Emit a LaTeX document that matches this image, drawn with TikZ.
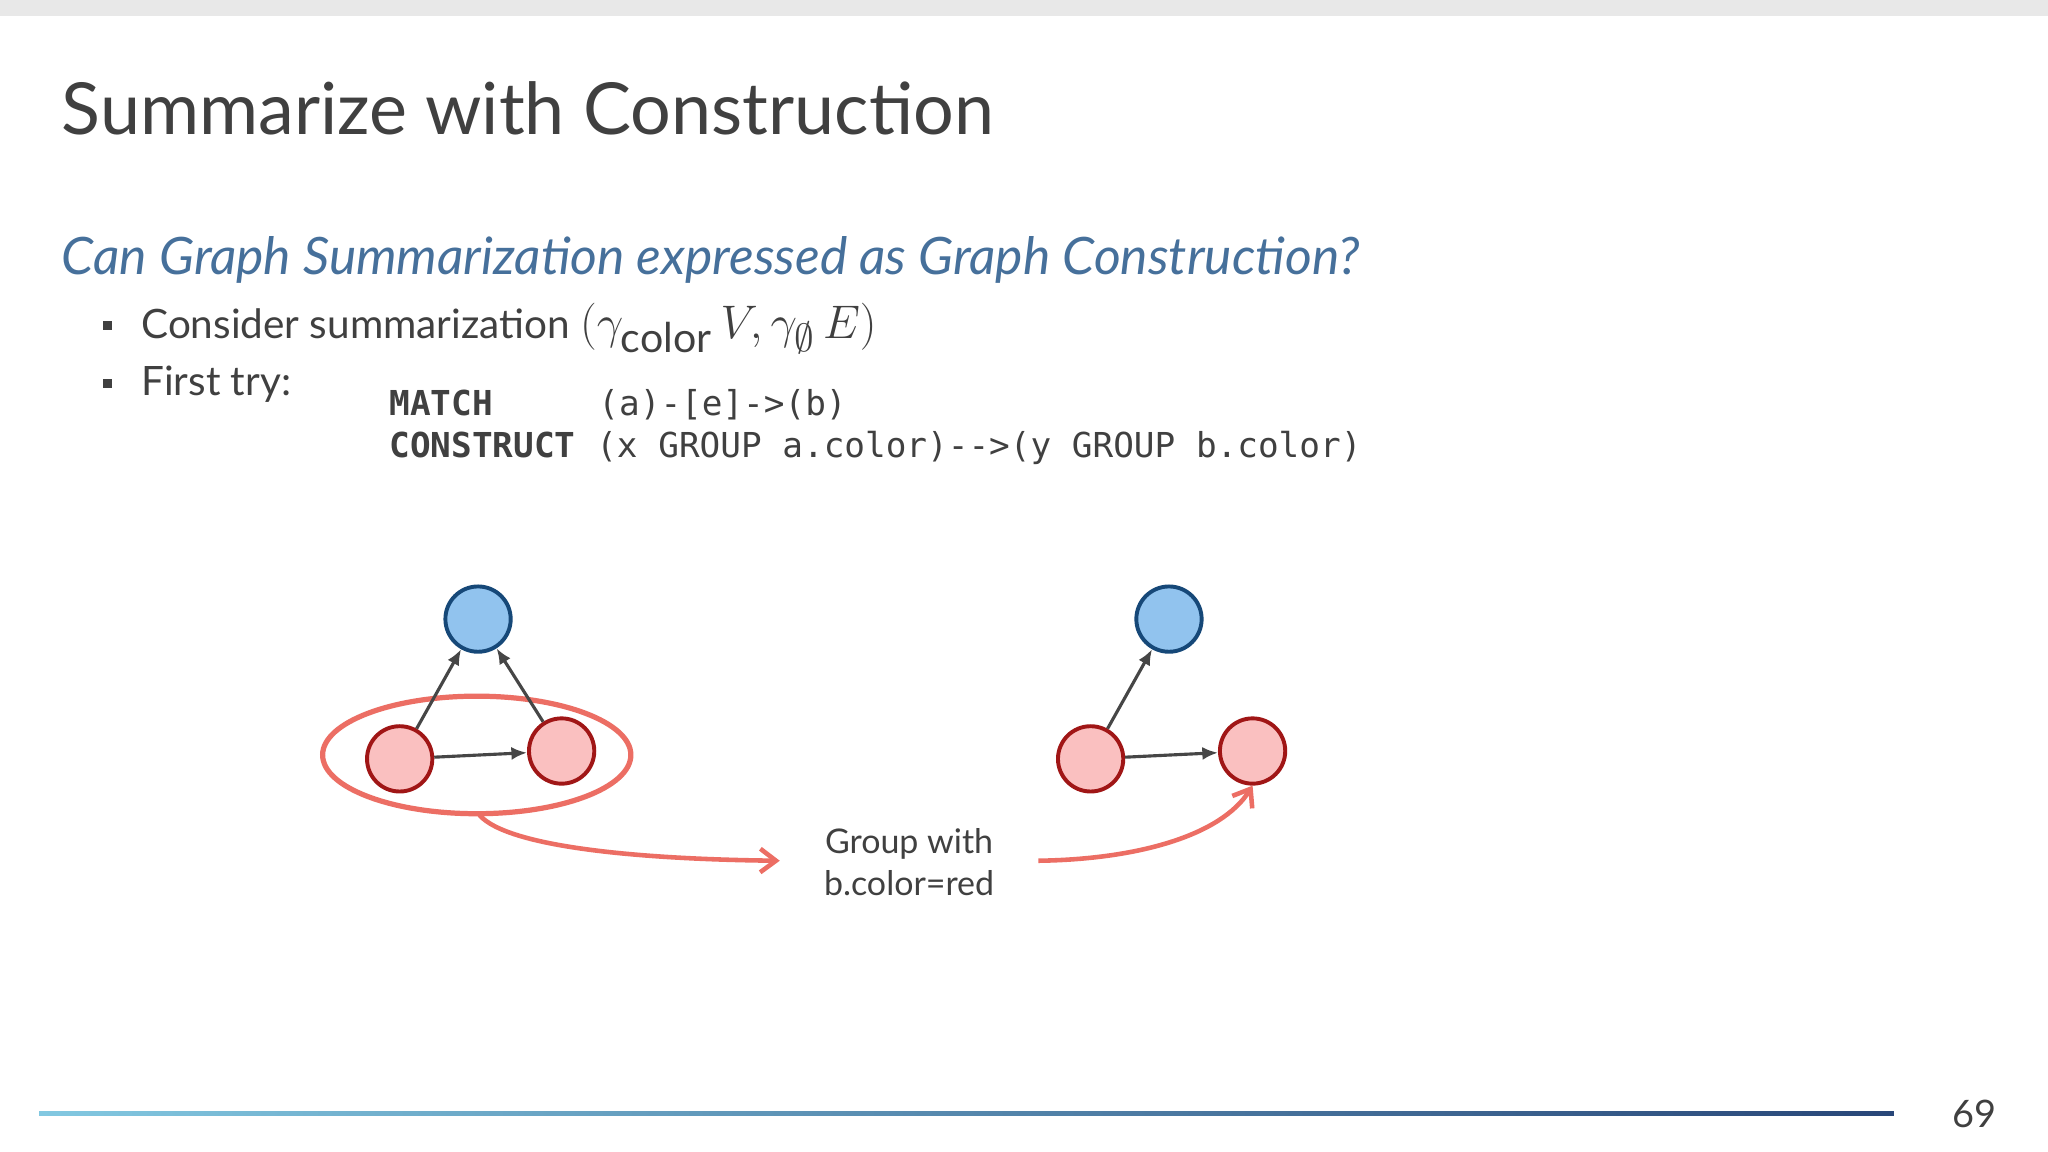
\documentclass[tikz,border=0pt]{standalone}
\usepackage{fontspec}
\setmainfont{Lato}
\newfontfamily\codefont{DejaVu Sans Mono}
\usetikzlibrary{arrows.meta}
\definecolor{titlec}{RGB}{64,64,64}
\definecolor{subc}{RGB}{70,112,155}
\definecolor{bfill}{RGB}{145,195,238}
\definecolor{bdraw}{RGB}{22,72,120}
\definecolor{rfill}{RGB}{250,192,192}
\definecolor{rdraw}{RGB}{160,22,22}
\definecolor{salmon}{RGB}{236,110,100}
\definecolor{edgec}{RGB}{70,70,70}
\definecolor{lineA}{RGB}{130,200,225}
\definecolor{lineB}{RGB}{40,70,120}
\tikzset{
 bnode/.style={circle,draw=bdraw,fill=bfill,line width=3pt,minimum size=50pt,inner sep=0pt},
 rnode/.style={circle,draw=rdraw,fill=rfill,line width=3pt,minimum size=50pt,inner sep=0pt},
 gedge/.style={draw=edgec,line width=2.4pt,-{Latex[length=12pt,width=10pt]}},
 sarrow/.style={draw=salmon,line width=3.5pt,-{Straight Barb[length=12pt,width=18pt]}},
}
\begin{document}
\begin{tikzpicture}[x=1pt,y=-1pt]
\useasboundingbox (0,0) rectangle (1568,882);
\fill[white] (0,0) rectangle (1568,882);
\fill[black!9] (0,0) rectangle (1568,12);
\node[anchor=base west,inner sep=0,text=titlec,font=\fontsize{55}{66}\selectfont] (title) at (47,103) {Summarize with Construction};
\node[anchor=base west,inner sep=0,text=subc,font=\itshape\fontsize{39.5}{46}\selectfont] (sub) at (47,210) {Can Graph Summarization expressed as Graph Construction?};
\fill[titlec] (79,246) rectangle (86,253);
\fill[titlec] (79,290) rectangle (86,297);
\node[anchor=base west,inner sep=0,text=titlec,font=\fontsize{31}{37}\selectfont] (b1) at (108,259) {Consider summarization \scalebox{1.45}{$\big(\gamma_{\mathrm{color}}\,V,\gamma_{\emptyset}\,E\big)$}};
\node[anchor=base west,inner sep=0,text=titlec,font=\fontsize{31}{37}\selectfont] (b2) at (108,303) {First try:};
\node[anchor=base west,inner sep=0,text=titlec,font=\codefont\fontsize{26.3}{30}\selectfont] (c1) at (298,318) {\textbf{MATCH}};
\node[anchor=base west,inner sep=0,text=titlec,font=\codefont\fontsize{26.3}{30}\selectfont] (c1b) at (458,318) {(a)-[e]->(b)};
\node[anchor=base west,inner sep=0,text=titlec,font=\codefont\fontsize{26.3}{30}\selectfont] (c2) at (298,350) {\textbf{CONSTRUCT} (x GROUP a.color)-->(y GROUP b.color)};
% left graph
\draw[salmon,line width=4pt] (365,578) ellipse [x radius=118, y radius=45];
\node[bnode] (lb) at (366,474) {};
\node[rnode] (lr1) at (306,581) {};
\node[rnode] (lr2) at (430,575) {};
\draw[gedge] (lr1) -- (lb);
\draw[gedge] (lr2) -- (lb);
\draw[gedge] (lr1) -- (lr2);
% right graph
\node[bnode] (rb) at (895,474) {};
\node[rnode] (rr1) at (835,581) {};
\node[rnode] (rr2) at (959,575) {};
\draw[gedge] (rr1) -- (rb);
\draw[gedge] (rr1) -- (rr2);
% label and arrows
\node[align=center,text=titlec,font=\fontsize{26}{32}\selectfont,inner sep=0pt] (grp) at (696,660) {Group with\\b.color=red};
\coordinate (es) at (367,624);
\coordinate (ea) at (597,659);
\coordinate (eb) at (795,659);
\draw[sarrow] (es) .. controls (390,650) and (500,658) .. (ea);
\draw[sarrow] (eb) .. controls (870,658) and (935,640) .. (rr2.south);
% bottom
\shade[left color=lineA,right color=lineB] (30,851) rectangle (1450,854);
\node[text=titlec,font=\fontsize{29}{35}\selectfont] (pg) at (1512,853) {69};
\end{tikzpicture}
\end{document}
